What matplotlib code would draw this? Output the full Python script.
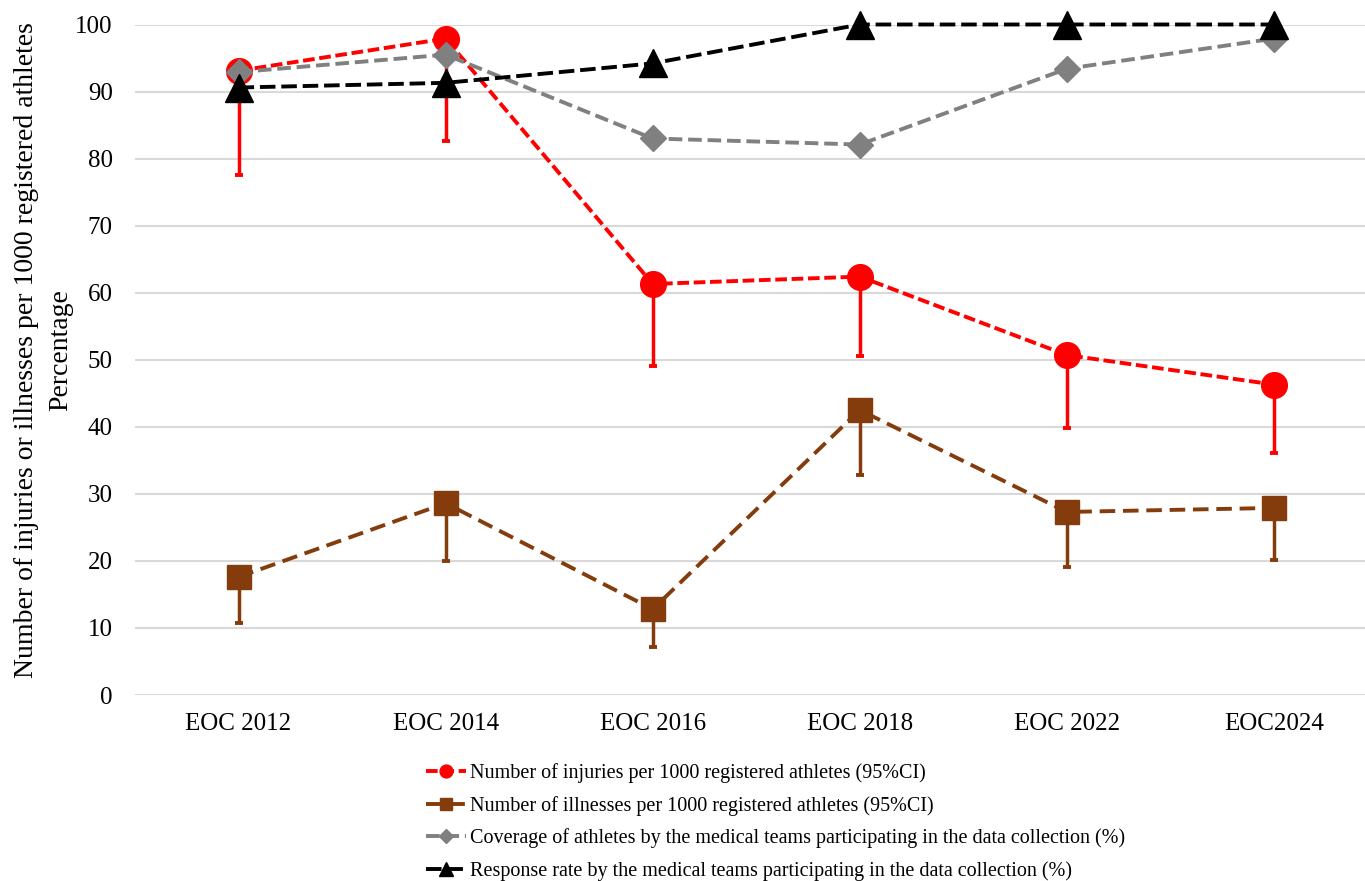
import numpy as np
import matplotlib
matplotlib.use("Agg")
import matplotlib.pyplot as plt

plt.rcParams['font.family'] = ['Liberation Serif', 'DejaVu Serif']

# data
events = ["EOC 2012", "EOC 2014", "EOC 2016", "EOC 2018", "EOC 2022", "EOC2024"]
injuries = [93.1, 97.9, 61.3, 62.4, 50.7, 46.3]
injuries_low = [77.6, 82.6, 49.0, 50.5, 39.8, 36.1]
illnesses = [17.6, 28.6, 12.8, 42.5, 27.3, 27.9]
illnesses_low = [10.7, 20.0, 7.2, 32.8, 19.1, 20.1]
coverage = [92.9, 95.5, 83.0, 82.1, 93.4, 97.9]
response = [90.6, 91.3, 94.2, 100.0, 100.0, 100.0]

labels = ["Number of injuries per 1000 registered athletes (95%CI)",
          "Number of illnesses per 1000 registered athletes (95%CI)",
          "Coverage of athletes by the medical teams participating in the data collection (%)",
          "Response rate by the medical teams participating in the data collection (%)"]

fig = plt.figure(figsize=(13.65, 8.81), dpi=100)
ax = fig.add_axes([135/1365, 1-695/881, 1230/1365, (695-24.5)/881])

x = np.arange(len(events))

# lower-only error bars
for vals, low, col in [(injuries, injuries_low, "#FF0000"), (illnesses, illnesses_low, "#843C0C")]:
    vals = np.array(vals)
    err = [vals - np.array(low), np.zeros(len(vals))]
    ax.errorbar(x, vals, yerr=err, fmt='none', ecolor=col, elinewidth=2.5,
                capsize=3.2, capthick=2.8, zorder=2, clip_on=False)

h1, = ax.plot(x, injuries, color="#FF0000", lw=2.8, dashes=(3, 1.2), marker='o',
              ms=18.5, label=labels[0], zorder=3, clip_on=False)
h2, = ax.plot(x, illnesses, color="#843C0C", lw=2.8, dashes=(4, 2), marker='s',
              ms=17.5, label=labels[1], zorder=3, clip_on=False)
h3, = ax.plot(x, coverage, color="#808080", lw=2.8, dashes=(3.5, 1.5), marker='D',
              ms=13.5, label=labels[2], zorder=4, clip_on=False)
h4, = ax.plot(x, response, color="black", lw=2.8, dashes=(4, 1.5), marker='^',
              ms=20, label=labels[3], zorder=5, clip_on=False)

ax.set_xlim(-0.5, 5.44)
ax.set_ylim(0, 100)
ax.set_yticks(np.arange(0, 101, 10))
ax.set_xticks(x)
ax.set_xticklabels(events)
ax.grid(axis='y', color="#d9d9d9", lw=1.5)
ax.set_axisbelow(True)
for s in ax.spines.values():
    s.set_visible(False)
ax.tick_params(axis='y', length=0, pad=16, labelsize=18)
ax.tick_params(axis='x', length=0, pad=13, labelsize=18)
ax.set_ylabel("Number of injuries or illnesses per 1000 registered athletes\nPercentage",
              fontsize=20, linespacing=1.5)
ax.yaxis.set_label_coords(-0.0504, 0.5145)

fig.legend(handles=[h1, h2, h3, h4], loc='upper left', bbox_to_anchor=(426/1365, 1-763/881),
           frameon=False, fontsize=14.5, markerscale=0.5, handlelength=2.0,
           handletextpad=0.2, labelspacing=0.64, borderpad=0, borderaxespad=0)

fig.savefig("out.png", dpi=100)
